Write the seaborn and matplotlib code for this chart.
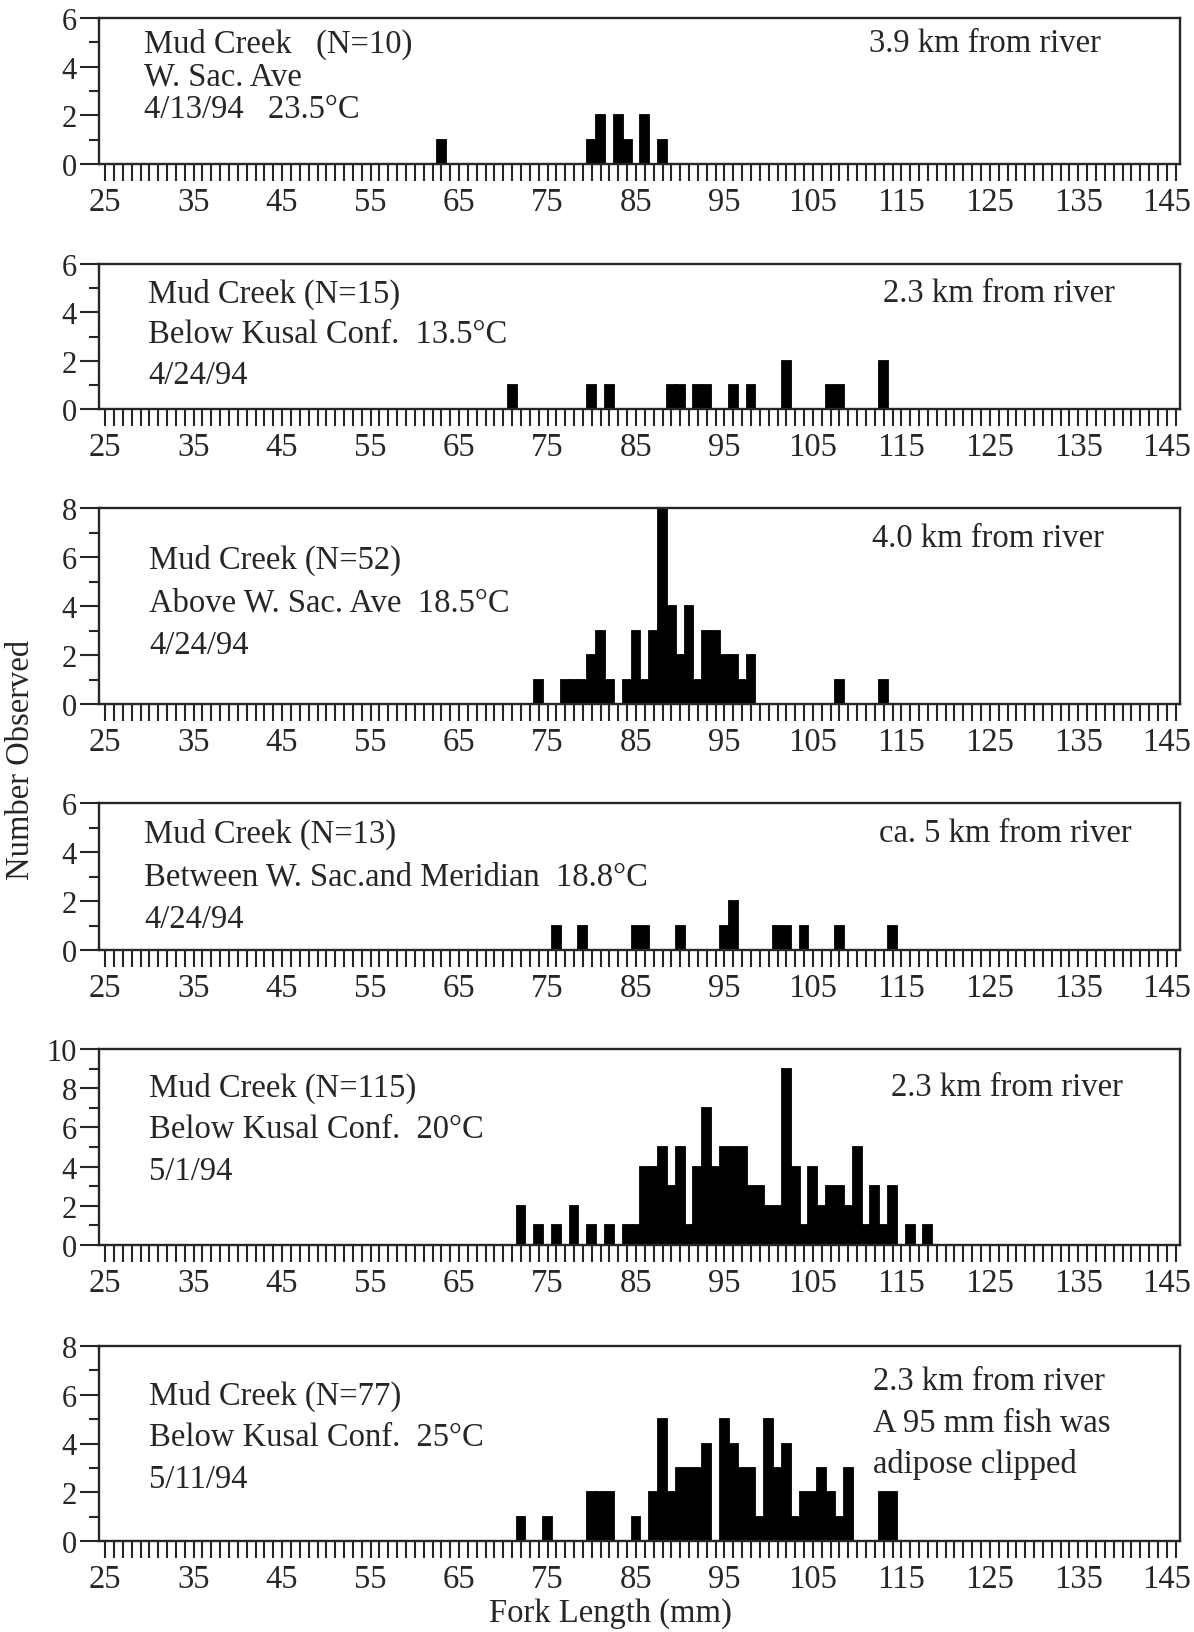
import matplotlib
matplotlib.use("Agg")
import matplotlib.pyplot as plt
from matplotlib.ticker import MultipleLocator
import seaborn as sns

# Fork-length frequency (mm -> number of fish) for each Mud Creek sample
len_0413 = [63, 80, 81, 83, 84, 86, 88]
cnt_0413 = [1, 1, 2, 2, 1, 2, 1]

len_0424_kusal = [71, 80, 82, 89, 90, 92, 93, 96, 98, 102, 107, 108, 113]
cnt_0424_kusal = [1, 1, 1, 1, 1, 1, 1, 1, 1, 2, 1, 1, 2]

len_0424_above = [74, 77, 78, 79, 80, 81, 82, 84, 85, 86, 87, 88, 89, 90, 91,
                  92, 93, 94, 95, 96, 97, 98, 108, 113]
cnt_0424_above = [1, 1, 1, 1, 2, 3, 1, 1, 3, 1, 3, 8, 4, 2, 4,
                  1, 3, 3, 2, 2, 1, 2, 1, 1]

len_0424_merid = [76, 79, 85, 86, 90, 95, 96, 101, 102, 104, 108, 114]
cnt_0424_merid = [1, 1, 1, 1, 1, 1, 2, 1, 1, 1, 1, 1]

len_0501 = [72, 74, 76, 78, 80, 82, 84, 85, 86, 87, 88, 89, 90, 91, 92, 93, 94,
            95, 96, 97, 98, 99, 100, 101, 102, 103, 104, 105, 106, 107, 108,
            109, 110, 111, 112, 113, 114, 116, 118]
cnt_0501 = [2, 1, 1, 2, 1, 1, 1, 1, 4, 4, 5, 3, 5, 1, 4, 7, 4,
            5, 5, 5, 3, 3, 2, 2, 9, 4, 1, 4, 2, 3, 3,
            2, 5, 1, 3, 1, 3, 1, 1]

len_0511 = [72, 75, 80, 81, 82, 85, 87, 88, 89, 90, 91, 92, 93, 95, 96, 97,
            98, 99, 100, 101, 102, 103, 104, 105, 106, 107, 108, 109, 113, 114]
cnt_0511 = [1, 1, 2, 2, 2, 1, 2, 5, 2, 3, 3, 3, 4, 5, 4, 3,
            3, 1, 5, 3, 4, 1, 2, 2, 3, 2, 1, 3, 2, 2]

y_max = [6, 6, 8, 6, 10, 8]
x_ticks = list(range(25, 146, 10))

left_notes = [
    ["Mud Creek   (N=10)", "W. Sac. Ave", "4/13/94   23.5\u00b0C"],
    ["Mud Creek (N=15)", "Below Kusal Conf.  13.5\u00b0C", "4/24/94"],
    ["Mud Creek (N=52)", "Above W. Sac. Ave  18.5\u00b0C", "4/24/94"],
    ["Mud Creek (N=13)", "Between W. Sac.and Meridian  18.8\u00b0C", "4/24/94"],
    ["Mud Creek (N=115)", "Below Kusal Conf.  20\u00b0C", "5/1/94"],
    ["Mud Creek (N=77)", "Below Kusal Conf.  25\u00b0C", "5/11/94"],
]
right_notes = [
    ["3.9 km from river"],
    ["2.3 km from river"],
    ["4.0 km from river"],
    ["ca. 5 km from river"],
    ["2.3 km from river"],
    ["2.3 km from river", "A 95 mm fish was", "adipose clipped"],
]

samples = [
    (len_0413, cnt_0413), (len_0424_kusal, cnt_0424_kusal),
    (len_0424_above, cnt_0424_above), (len_0424_merid, cnt_0424_merid),
    (len_0501, cnt_0501), (len_0511, cnt_0511),
]

sns.set_style("ticks")
plt.rcParams["font.family"] = ["Liberation Serif", "DejaVu Serif"]
plt.rcParams["axes.linewidth"] = 1.6

W, H = 1194, 1633
fig = plt.figure(figsize=(W / 100, H / 100), dpi=100)
fig.patch.set_facecolor("white")

# panel frames in pixels: (top, baseline)
frames = [(19, 165), (265, 410), (509, 705), (804, 951), (1050, 1246), (1347, 1542)]
x_left, x_right = 99, 1180
# note positions in pixels: left block x, first line y, line gap; right block
left_pos = [(144, 44), (148, 294), (149, 560), (144, 834), (149, 1088), (149, 1396)]
left_gap = [33, 41, 43, 43, 42, 42]
right_pos = [(1101, 44, "right"), (1115, 294, "right"), (1104, 539, "right"),
             (1132, 834, "right"), (1123, 1088, "right"), (873, 1382, "left")]

FS = 23.5

for i, ((lens, cnts), (top, base)) in enumerate(zip(samples, frames)):
    ax = fig.add_axes([x_left / W, 1 - base / H, (x_right - x_left) / W, (base - top) / H])
    sns.histplot(x=lens, weights=cnts, discrete=True, ax=ax, color="black",
                 edgecolor="black", linewidth=1.3, alpha=1.0, fill=True)
    ax.set_xlim(24.3, 146.5)
    ax.set_ylim(0, y_max[i])
    ax.set_xticks(x_ticks)
    ax.xaxis.set_minor_locator(MultipleLocator(1))
    ax.set_yticks(list(range(0, y_max[i] + 1, 2)))
    ax.yaxis.set_minor_locator(MultipleLocator(1))
    ax.tick_params(axis="x", which="both", direction="out", length=12, width=1.5,
                   labelsize=FS, pad=4)
    ax.tick_params(axis="y", which="major", direction="out", length=14, width=1.5,
                   labelsize=22, pad=2)
    ax.tick_params(axis="y", which="minor", direction="out", length=7, width=1.5)
    ax.set_xlabel("")
    ax.set_ylabel("")
    for s in ax.spines.values():
        s.set_visible(True)
        s.set_linewidth(1.7)

    lx, ly = left_pos[i]
    for k, line in enumerate(left_notes[i]):
        fig.text(lx / W, 1 - (ly + k * left_gap[i]) / H, line, ha="left",
                 va="center", fontsize=FS)
    rx, ry, ha = right_pos[i]
    for k, line in enumerate(right_notes[i]):
        fig.text(rx / W, 1 - (ry + k * 41.5) / H, line, ha=ha, va="center",
                 fontsize=FS)

fig.text(21 / W, 1 - 760 / H, "Number Observed", rotation=90, ha="center",
         va="center", fontsize=FS)
fig.text(610 / W, 1 - 1614 / H, "Fork Length (mm)", ha="center", va="center",
         fontsize=FS)

fig.savefig("out.png", dpi=100, facecolor="white")
